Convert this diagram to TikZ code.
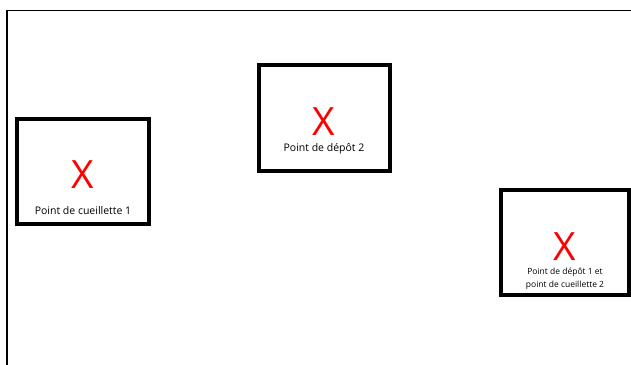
\documentclass[tikz,border=0pt]{standalone}
\usepackage{fontspec}
\setmainfont{Open Sans}
\begin{document}
\begin{tikzpicture}[x=1pt,y=-1pt,
  frame/.style={draw=black,line width=4pt},
  cross/.style={text=red,font=\fontsize{39}{39}\selectfont,inner sep=0pt,anchor=base},
  lbl/.style={font=\fontsize{10.5}{13}\selectfont,inner sep=0pt,anchor=base,align=center},
  smalllbl/.style={lbl,font=\fontsize{8.5}{13}\selectfont}]
\useasboundingbox[fill=white] (0,0) rectangle (631,364);
\draw[line width=1.5pt] (7,368) -- (7,10.5) -- (635,10.5);
% box 1
\node[frame,minimum width=132pt,minimum height=105pt,inner sep=0pt] (b1) at (83,171.5) {};
\node[cross] (x1) at (83,188) {X};
\node[lbl] (l1) at (83,214) {Point de cueillette 1};
% box 2
\node[frame,minimum width=131pt,minimum height=106pt,inner sep=0pt] (b2) at (324.5,118) {};
\node[cross] (x2) at (324,135) {X};
\node[lbl] (l2) at (324,151) {Point de dépôt 2};
% box 3
\node[frame,minimum width=128pt,minimum height=105pt,inner sep=0pt] (b3) at (565,242.5) {};
\node[cross] (x3) at (565,260) {X};
\node[smalllbl] (l3) at (565,274) {Point de dépôt 1 et};
\node[smalllbl] (l4) at (565,287) {point de cueillette 2};
\end{tikzpicture}
\end{document}
